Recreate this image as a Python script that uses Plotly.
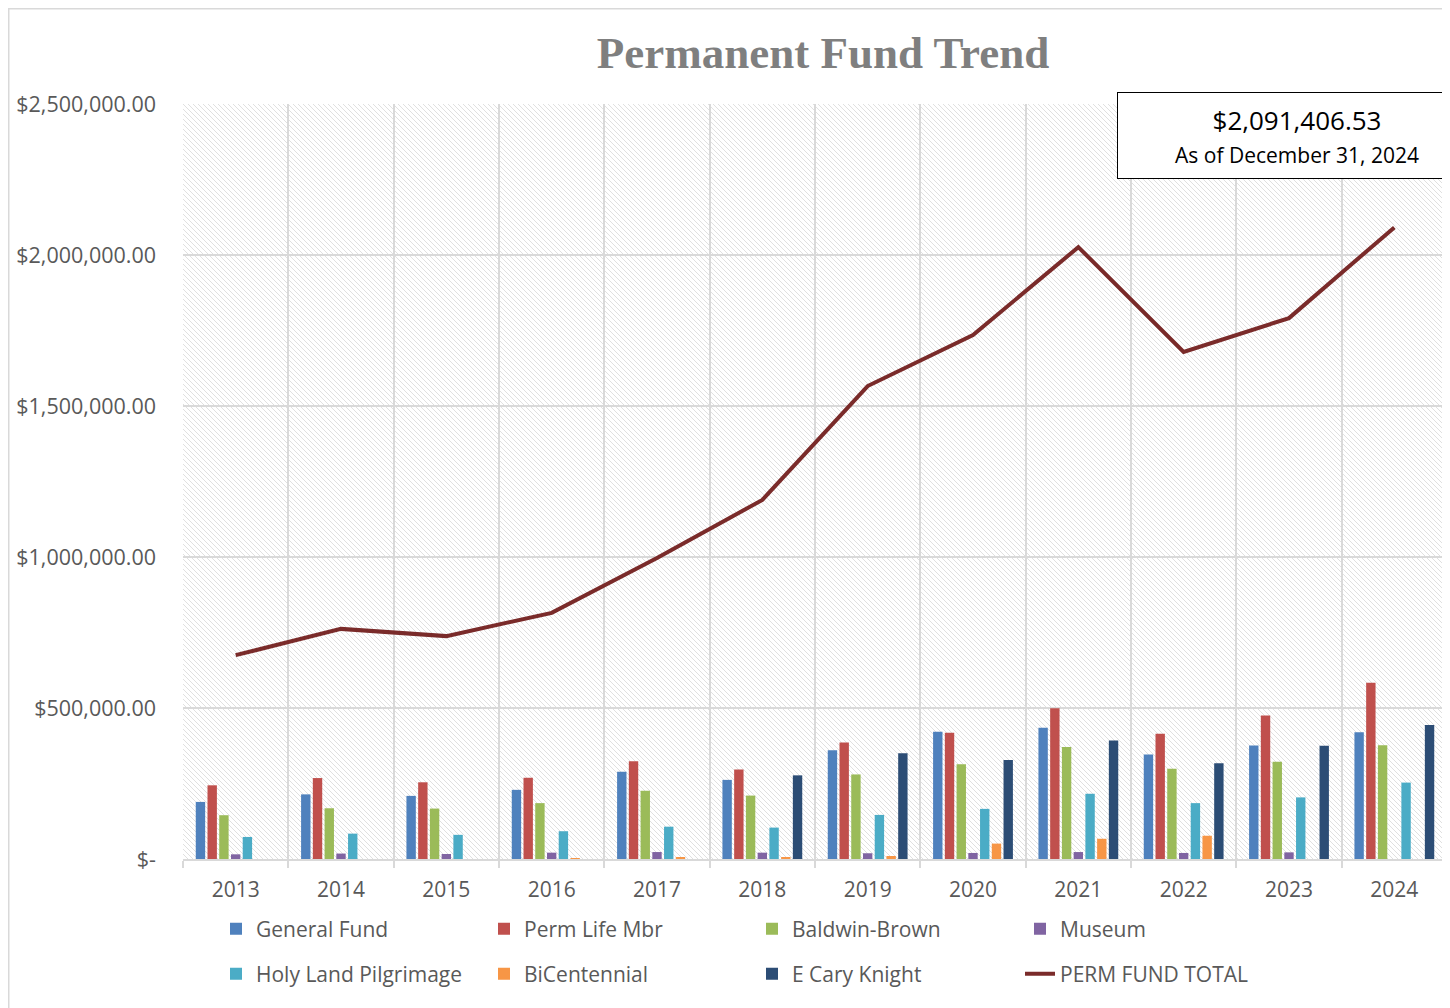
import base64
import plotly.graph_objects as go

years = ["2013", "2014", "2015", "2016", "2017", "2018", "2019", "2020", "2021", "2022", "2023", "2024"]
general_fund = [189000, 214000, 209000, 229000, 289000, 262000, 360000, 421000, 435000, 346000, 376000, 420000]
perm_life_mbr = [244000, 268000, 254000, 269000, 324000, 296000, 386000, 418000, 499000, 415000, 475000, 584000]
baldwin_brown = [145000, 168000, 167000, 185000, 226000, 210000, 280000, 314000, 371000, 299000, 322000, 377000]
museum = [15500, 18000, 16600, 21000, 23000, 21000, 19000, 20000, 23000, 20000, 22000, 0]
holy_land = [73000, 84000, 80000, 92000, 107000, 104000, 146000, 166000, 216000, 185000, 204000, 253000]
bicentennial = [0, 0, 0, 2000, 4000, 4000, 10000, 51000, 67000, 77000, 0, 0]
e_cary_knight = [0, 0, 0, 0, 0, 277000, 350000, 328000, 392000, 317000, 375000, 444000]
perm_fund_total = [675000, 762000, 738000, 815000, 997000, 1189000, 1566000, 1735000, 2026000, 1679000, 1791000, 2091406.53]

y_tick_vals = [0, 500000, 1000000, 1500000, 2000000, 2500000]
y_tick_text = ["$-", "$500,000.00", "$1,000,000.00", "$1,500,000.00", "$2,000,000.00", "$2,500,000.00"]

bar_series = [
    ("General Fund", general_fund, "#4F81BD", "legend"),
    ("Perm Life Mbr", perm_life_mbr, "#C0504D", "legend"),
    ("Baldwin-Brown", baldwin_brown, "#9BBB59", "legend"),
    ("Museum", museum, "#8064A2", "legend"),
    ("Holy Land Pilgrimage", holy_land, "#4BACC6", "legend2"),
    ("BiCentennial", bicentennial, "#F79646", "legend2"),
    ("E Cary Knight", e_cary_knight, "#2C4D75", "legend2"),
]

# Figure geometry (page body adds an 8px offset)
OFF = 8
W, H = 1450 - OFF, 1008 - OFF
L, R, T, B = 183 - OFF, 3, 104 - OFF, 149
PW, PH = W - L - R, H - T - B

def px_x(x):
    return (x - OFF - L) / PW

def px_y(y):
    return (H - B - (y - OFF)) / PH

fig = go.Figure()
for name, vals, color, lg in bar_series:
    fig.add_trace(go.Bar(x=years, y=vals, name=name, marker=dict(color=color, line=dict(width=0)),
                         legend=lg))
fig.add_trace(go.Scatter(x=years, y=perm_fund_total, name="PERM FUND TOTAL", mode="lines",
                         line=dict(color="#7A2B2A", width=4), legend="legend2"))

# hatched plot-area background
svg = (f'<svg xmlns="http://www.w3.org/2000/svg" width="{PW}" height="{PH}" viewBox="0 0 {PW} {PH}" '
       f'preserveAspectRatio="none"><defs><pattern id="p" width="5" height="5" patternUnits="userSpaceOnUse">'
       f'<path d="M-1,-1 L6,6 M-1,4 L1,6 M4,-1 L6,1" stroke="#e0e0e0" stroke-width="1"/></pattern></defs>'
       f'<rect width="{PW}" height="{PH}" fill="url(#p)"/></svg>')
src = "data:image/svg+xml;base64," + base64.b64encode(svg.encode()).decode()

x_font = dict(family="Open Sans", size=21, color="#595959")
y_font = dict(family="Open Sans", size=21.5, color="#595959")
legend_font = dict(family="Open Sans", size=21, color="#595959")

fig.update_layout(
    width=W, height=H,
    margin=dict(l=L, r=R, t=T, b=B),
    paper_bgcolor="white", plot_bgcolor="white",
    barmode="group", bargap=0.22, bargroupgap=0.2,
    title=dict(text="<b>Permanent Fund Trend</b>", x=(823 - OFF) / W, xref="container", xanchor="center",
               y=1 - (52 - OFF) / H, yref="container", yanchor="middle",
               font=dict(family="Liberation Serif", size=45, color="#7F7F7F")),
    xaxis=dict(type="category", tickson="boundaries", showgrid=True, gridcolor="#D9D9D9", gridwidth=2,
               ticks="outside", ticklen=7, tickcolor="#D9D9D9", tickwidth=2,
               showline=True, linecolor="#D9D9D9", linewidth=2, tickfont=x_font,
               ticklabelstandoff=11, range=[-0.5, 11.5]),
    yaxis=dict(range=[0, 2500000], tickvals=y_tick_vals, ticktext=y_tick_text, showgrid=True,
               gridcolor="#D9D9D9", gridwidth=2, zeroline=False, tickfont=y_font,
               ticklabelstandoff=26),
    legend=dict(orientation="h", x=px_x(216), xanchor="left", y=px_y(929), yanchor="middle",
                entrywidthmode="pixels", entrywidth=223, font=legend_font, bgcolor="rgba(0,0,0,0)"),
    legend2=dict(orientation="h", x=px_x(216), xanchor="left", y=px_y(974), yanchor="middle",
                 entrywidthmode="pixels", entrywidth=223, font=legend_font, bgcolor="rgba(0,0,0,0)"),
    images=[dict(source=src, xref="paper", yref="paper", x=0, y=1, sizex=1, sizey=1,
                 sizing="stretch", xanchor="left", yanchor="top", layer="below")],
    shapes=[dict(type="rect", xref="paper", yref="paper", x0=px_x(8.75), x1=px_x(1449.5),
                 y0=px_y(1012), y1=px_y(8.75), line=dict(color="#D9D9D9", width=1.5), layer="below")],
    annotations=[dict(xref="paper", yref="paper", x=px_x(1297), y=px_y(135.5), xanchor="center",
                      yanchor="middle", showarrow=False, width=358, height=85, borderpad=0,
                      bordercolor="black", borderwidth=1, bgcolor="white",
                      text="$2,091,406.53<br><span style='font-size:21px'>As of December 31, 2024</span>",
                      font=dict(family="Open Sans", size=26, color="black"))],
)

fig.write_html("out.html")
